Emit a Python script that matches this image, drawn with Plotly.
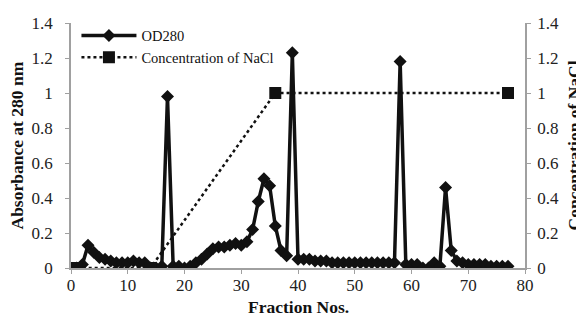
import plotly.graph_objects as go

fractions = list(range(1, 78))
od280 = [0.00, 0.02, 0.13, 0.09, 0.06, 0.05, 0.04, 0.03, 0.03, 0.03,
         0.04, 0.03, 0.03, 0.00, 0.00, 0.01, 0.98, 0.01, 0.01, 0.00,
         0.01, 0.03, 0.05, 0.08, 0.11, 0.12, 0.12, 0.13, 0.14, 0.13,
         0.15, 0.22, 0.38, 0.51, 0.47, 0.24, 0.10, 0.07, 1.23, 0.05,
         0.05, 0.05, 0.04, 0.04, 0.04, 0.03, 0.03, 0.03, 0.03, 0.03,
         0.03, 0.03, 0.03, 0.03, 0.03, 0.03, 0.03, 1.18, 0.02, 0.02,
         0.02, 0.00, 0.00, 0.03, 0.01, 0.46, 0.10, 0.04, 0.03, 0.02,
         0.02, 0.02, 0.02, 0.01, 0.01, 0.01, 0.01]
nacl_x = [1, 14, 36, 77]
nacl_y = [0, 0, 1, 1]
x_ticks = [0, 10, 20, 30, 40, 50, 60, 70, 80]
y_ticks = [0, 0.2, 0.4, 0.6, 0.8, 1.0, 1.2, 1.4]

font = "Liberation Serif, Times New Roman, serif"
grey = "#a0a0a0"

fig = go.Figure()
fig.add_trace(go.Scatter(
    x=fractions, y=od280, name="OD280", mode="lines+markers",
    line=dict(color="#111111", width=3.5),
    marker=dict(symbol="diamond", size=10, color="#111111"),
    yaxis="y"))
fig.add_trace(go.Scatter(
    x=nacl_x, y=nacl_y, name="Concentration of NaCl", mode="lines+markers",
    line=dict(color="#111111", width=2.5, dash="dot"),
    marker=dict(symbol="square", size=12, color="#111111"),
    yaxis="y2"))

axis_common = dict(showgrid=False, zeroline=False, showline=True,
                   linecolor=grey, linewidth=1.5, ticks="outside",
                   tickcolor=grey, ticklen=4, automargin=False,
                   tickfont=dict(family=font, size=17, color="#222222"))

title_font = dict(family=font, size=17.5, color="#111111")

# the page body adds an 8px offset, so the figure is sized to the visible area
fig.update_layout(
    width=576, height=313,
    margin=dict(l=63, r=59, t=15, b=53),
    paper_bgcolor="white", plot_bgcolor="white",
    font=dict(family=font, color="#111111"),
    showlegend=True,
    legend=dict(x=0.012, y=1.014, xanchor="left", yanchor="top",
                bgcolor="rgba(0,0,0,0)", font=dict(family=font, size=14.5),
                itemwidth=55, tracegroupgap=0),
    xaxis=dict(range=[0, 80], tickvals=x_ticks, ticklabelstandoff=-3,
               **axis_common),
    yaxis=dict(range=[0, 1.4], tickvals=y_ticks, ticklabelstandoff=9,
               **axis_common),
    yaxis2=dict(range=[0, 1.4], tickvals=y_ticks, overlaying="y", side="right",
                ticklabelstandoff=3, **axis_common),
    annotations=[
        dict(text="<b>Fraction Nos.</b>", xref="paper", yref="paper",
             x=0.5, y=0, xanchor="center", yanchor="middle", yshift=-39,
             showarrow=False, font=title_font),
        dict(text="<b>Absorbance at 280 nm</b>", xref="paper", yref="paper",
             x=0, y=0.5, xanchor="center", yanchor="middle", xshift=-55,
             textangle=-90, showarrow=False, font=title_font),
        dict(text="<b>Concentration of NaCl</b>", xref="paper", yref="paper",
             x=1, y=0.5, xanchor="center", yanchor="middle", xshift=48,
             textangle=-90, showarrow=False, font=title_font),
    ],
)

fig.write_html("out.html")
